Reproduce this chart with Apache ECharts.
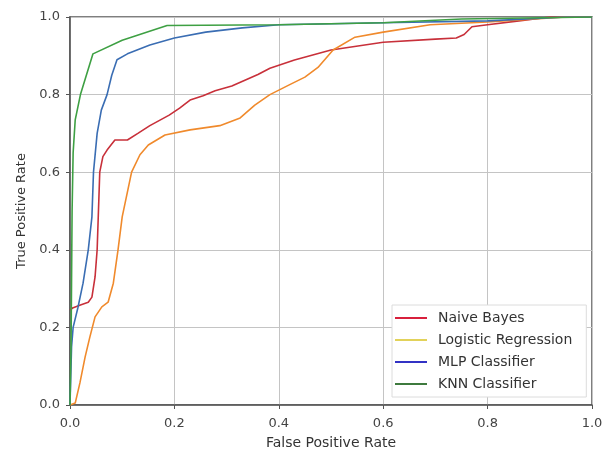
<!DOCTYPE html>
<html>
<head>
<meta charset="utf-8">
<script src="https://cdn.jsdelivr.net/npm/echarts@6/dist/echarts.min.js"></script>
<style>
html,body{margin:0;padding:0;background:#fff;}
#chart{width:606px;height:451px;}
</style>
</head>
<body>
<div id="chart"></div>
<script>
var seriesNames = ['Naive Bayes', 'Logistic Regression', 'MLP Classifier', 'KNN Classifier'];
var xTicks = [0.0, 0.2, 0.4, 0.6, 0.8, 1.0];

var nbFpr = [0, 0.005, 0.02, 0.035, 0.042, 0.048, 0.052, 0.057, 0.063, 0.071, 0.086, 0.11, 0.13, 0.153, 0.19, 0.21, 0.23, 0.255, 0.278, 0.31, 0.335, 0.36, 0.383, 0.43, 0.5, 0.6, 0.7, 0.74, 0.755, 0.77, 0.8, 0.86, 0.92, 1.0];
var nbTpr = [0.245, 0.25, 0.258, 0.265, 0.278, 0.33, 0.4, 0.6, 0.64, 0.657, 0.683, 0.683, 0.7, 0.72, 0.747, 0.765, 0.786, 0.797, 0.81, 0.822, 0.837, 0.852, 0.868, 0.889, 0.915, 0.935, 0.943, 0.946, 0.955, 0.975, 0.98, 0.99, 1.0, 1.0];

var lrFpr = [0, 0.01, 0.019, 0.029, 0.038, 0.048, 0.061, 0.073, 0.083, 0.092, 0.1, 0.118, 0.134, 0.15, 0.182, 0.23, 0.287, 0.326, 0.354, 0.383, 0.42, 0.45, 0.475, 0.504, 0.546, 0.6, 0.69, 0.8, 0.95, 1.0];
var lrTpr = [0, 0.005, 0.057, 0.124, 0.175, 0.227, 0.253, 0.265, 0.314, 0.4, 0.485, 0.6, 0.645, 0.67, 0.696, 0.709, 0.72, 0.74, 0.773, 0.8, 0.825, 0.845, 0.87, 0.915, 0.948, 0.961, 0.98, 0.987, 1.0, 1.0];

var mlpFpr = [0, 0.003, 0.006, 0.015, 0.025, 0.035, 0.042, 0.045, 0.052, 0.06, 0.071, 0.08, 0.09, 0.11, 0.153, 0.2, 0.26, 0.33, 0.4, 0.6, 0.8, 0.95, 1.0];
var mlpTpr = [0, 0.15, 0.2, 0.25, 0.314, 0.4, 0.485, 0.6, 0.7, 0.76, 0.8, 0.85, 0.89, 0.905, 0.928, 0.946, 0.961, 0.972, 0.98, 0.985, 0.99, 1.0, 1.0];

var knnFpr = [0, 0.002, 0.004, 0.006, 0.01, 0.02, 0.044, 0.1, 0.186, 0.4, 0.6, 0.75, 1.0];
var knnTpr = [0, 0.15, 0.5, 0.65, 0.735, 0.8, 0.905, 0.94, 0.978, 0.98, 0.985, 0.995, 1.0];

var lineColors = ['#c8303a', '#f08a2c', '#3a6db3', '#3ea043'];
var legendColors = ['#d8203c', '#e2d25a', '#3232c4', '#3e7a3e'];

function pairs(xs, ys) {
  var out = [];
  for (var i = 0; i < xs.length; i++) out.push([xs[i], ys[i]]);
  return out;
}
var allData = [pairs(nbFpr, nbTpr), pairs(lrFpr, lrTpr), pairs(mlpFpr, mlpTpr), pairs(knnFpr, knnTpr)];

var chart = echarts.init(document.getElementById('chart'), null, {renderer: 'canvas'});
var font = 'DejaVu Sans';
var axisCommon = function (name, gap, nameSize) {
  return {
    type: 'value', min: 0, max: 1, interval: 0.2,
    name: name, nameLocation: 'middle', nameGap: gap,
    nameTextStyle: {fontFamily: font, fontSize: nameSize, color: '#333'},
    axisLine: {show: true, onZero: false, lineStyle: {color: '#555', width: 1.5}},
    axisTick: {show: true, length: 4, lineStyle: {color: '#555'}},
    axisLabel: {fontFamily: font, fontSize: 13, color: '#444', margin: 12,
      formatter: function (v) { return v.toFixed(1); }},
    splitLine: {show: true, lineStyle: {color: '#c4c4c4', width: 1}}
  };
};
var xAxis = axisCommon('False Positive Rate', 31, 14);
var yAxis = axisCommon('True Positive Rate', 41, 13);
yAxis.axisLabel.margin = 10;

var series = seriesNames.map(function (n, i) {
  return {
    name: n, type: 'line', data: allData[i], showSymbol: false, symbol: 'none',
    lineStyle: {color: lineColors[i], width: 1.6}, itemStyle: {color: lineColors[i]},
    animation: false, z: 2 + i
  };
});

chart.setOption({
  animation: false,
  backgroundColor: '#fff',
  grid: {left: 70, right: 14, top: 17, bottom: 46, containLabel: false,
    outerBoundsMode: 'none',
    show: true, borderColor: '#555', borderWidth: 1.5},
  xAxis: xAxis,
  yAxis: yAxis,
  legend: {
    orient: 'vertical', left: 392, top: 305,
    padding: [6, 14, 6, 3],
    backgroundColor: '#fff', borderColor: '#dcdcdc', borderWidth: 1,
    itemWidth: 32, itemHeight: 2, itemGap: 8, itemStyle: {opacity: 1},
    icon: 'rect',
    textStyle: {fontFamily: font, fontSize: 14, lineHeight: 14, color: '#333', padding: [0, 0, 0, 6]},
    data: seriesNames.map(function (n, i) {
      return {name: n, itemStyle: {color: legendColors[i]}};
    })
  },
  series: series
});
</script>
</body>
</html>
